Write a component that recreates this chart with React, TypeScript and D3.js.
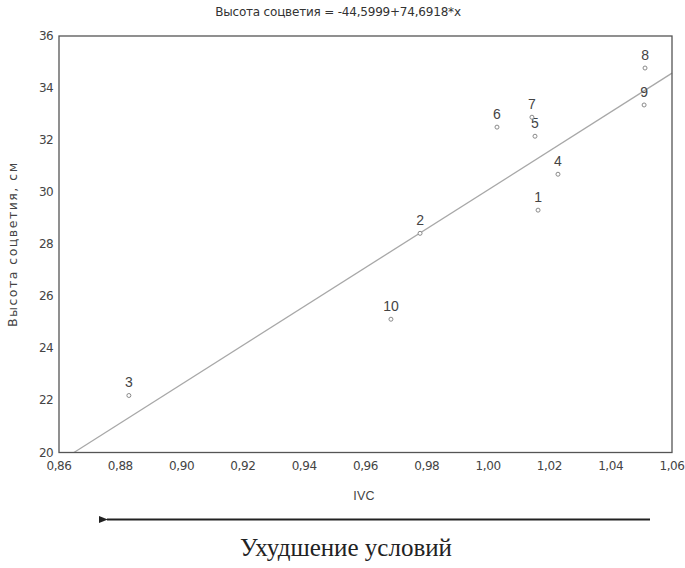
import React from "react";
import * as d3 from "d3";

const width = 685;
const height = 568;

// point labels and readings (IVC, inflorescence height)
const labels = ["1", "2", "3", "4", "5", "6", "7", "8", "9", "10"];
const ivc = [1.0163, 0.9778, 0.8828, 1.0228, 1.0153, 1.0029, 1.0143, 1.0512, 1.0509, 0.9683];
const heights = [29.31, 28.42, 22.19, 30.69, 32.15, 32.5, 32.88, 34.77, 33.35, 25.12];

const xTicks = [0.86, 0.88, 0.9, 0.92, 0.94, 0.96, 0.98, 1.0, 1.02, 1.04, 1.06];
const yTicks = [20, 22, 24, 26, 28, 30, 32, 34, 36];

const intercept = -44.5999;
const slope = 74.6918;

const margin = { left: 59, right: 13, top: 36, bottom: 115.5 };

const fmt = (v: number) => d3.format(".2f")(v).replace(".", ",");

const App = () => {
  const x = d3
    .scaleLinear()
    .domain([0.86, 1.06])
    .range([margin.left, width - margin.right]);
  const y = d3
    .scaleLinear()
    .domain([20, 36])
    .range([height - margin.bottom, margin.top]);

  // regression line clipped to the frame (starts where it crosses y = 20)
  const x0 = (20 - intercept) / slope;
  const x1 = 1.06;
  const line = d3
    .line<number>()
    .x((d) => x(d))
    .y((d) => y(intercept + slope * d));

  const font = "'DejaVu Sans', sans-serif";
  const sans = "'Liberation Sans', Arial, sans-serif";

  return (
    <svg
      width={width}
      height={height}
      style={{ position: "absolute", left: 0, top: 0, background: "#fff" }}
      fontFamily={font}
    >
      <defs>
        <marker id="arr" viewBox="0 0 10 10" refX="1" refY="5" markerWidth="4.5" markerHeight="4.5" orient="auto">
          <path d="M10,1 L0,5 L10,9 Z" fill="#222" />
        </marker>
      </defs>

      {/* title */}
      <text x={338} y={16} textAnchor="middle" fontSize={12} fill="#333" letterSpacing={-0.2}>
        Высота соцветия = -44,5999+74,6918*x
      </text>

      {/* regression line */}
      <path d={line([x0, x1]) || ""} fill="none" stroke="#a8a8a8" strokeWidth={1.3} />

      {/* points */}
      {ivc.map((v, i) => (
        <g key={i}>
          <circle cx={x(v)} cy={y(heights[i])} r={2} fill="#fff" stroke="#8a8a8a" strokeWidth={1} />
          <text
            x={x(v)}
            y={y(heights[i]) - 8}
            textAnchor="middle"
            fontSize={14}
            fontFamily={sans}
            fill="#444"
          >
            {labels[i]}
          </text>
        </g>
      ))}

      {/* frame */}
      <rect
        x={margin.left}
        y={margin.top}
        width={width - margin.left - margin.right}
        height={height - margin.top - margin.bottom}
        fill="none"
        stroke="#555"
        strokeWidth={1.3}
      />

      {/* y ticks */}
      {yTicks.map((t) => (
        <text key={t} x={margin.left - 6} y={y(t) + 4} textAnchor="end" fontSize={12} fill="#444" letterSpacing={-0.6}>
          {t}
        </text>
      ))}

      {/* x ticks */}
      {xTicks.map((t) => (
        <text key={t} x={x(t)} y={height - margin.bottom + 17} textAnchor="middle" fontSize={12} fill="#444" letterSpacing={-0.4}>
          {fmt(t)}
        </text>
      ))}

      {/* axis titles */}
      <text
        transform={`translate(17,${y(28)}) rotate(-90)`}
        textAnchor="middle"
        fontSize={12.5}
        fill="#444"
        letterSpacing={1.5}
      >
        Высота соцветия, см
      </text>
      <text x={364} y={500} textAnchor="middle" fontSize={12.5} fill="#444" fontFamily={sans} letterSpacing={0.3}>
        IVC
      </text>

      {/* arrow */}
      <line x1={650} y1={519.5} x2={107} y2={519.5} stroke="#222" strokeWidth={2} markerEnd="url(#arr)" />
      <text x={346} y={556} textAnchor="middle" fontSize={25} fill="#222" fontFamily="'Liberation Serif', 'Times New Roman', serif">
        Ухудшение условий
      </text>
    </svg>
  );
};

export default App;
